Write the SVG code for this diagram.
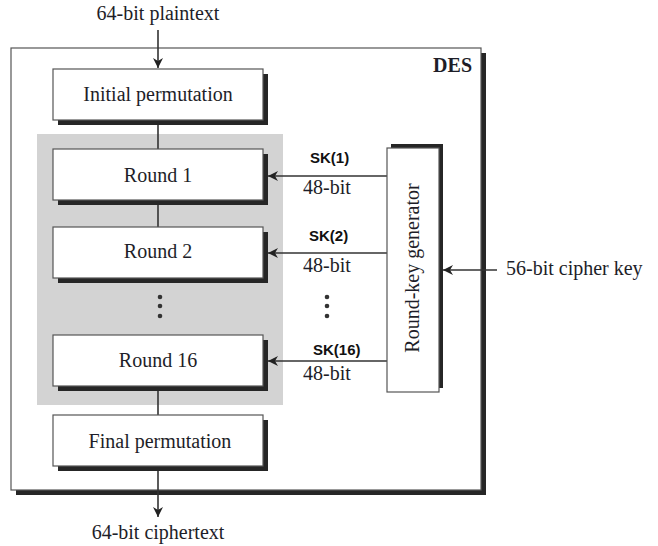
<svg xmlns="http://www.w3.org/2000/svg" width="658" height="546" viewBox="0 0 658 546">
<defs>
<style>
.box{fill:#fff;stroke:#555;stroke-width:1.2}
.sh{fill:#262626}
.lbl{font-family:"Liberation Serif",serif;font-size:20px;fill:#1e1e28}
.sk{font-family:"Liberation Sans",Arial,sans-serif;font-size:15px;font-weight:bold;fill:#111}
.ln{stroke:#333;stroke-width:1.6;fill:none}
.dot{fill:#333}
</style>
<marker id="ah" viewBox="0 0 10 10" refX="10" refY="5" markerWidth="10" markerHeight="10" markerUnits="userSpaceOnUse" orient="auto">
<path d="M0,0 L10,5 L0,10 L3,5 Z" fill="#222"/>
</marker>
</defs>
<rect width="658" height="546" fill="#fff"/>

<g id="des">
<rect class="sh" x="16" y="53" width="470" height="442"/>
<rect class="box" x="11" y="48" width="470" height="442" stroke="#333" stroke-width="1.5"/>
<text x="472" y="72" text-anchor="end" font-family="Liberation Serif,serif" font-size="20" font-weight="bold" fill="#1e1e28">DES</text>
</g>

<g id="rounds-area">
<rect x="37" y="134" width="246" height="271" fill="#d3d3d3"/>
</g>

<g id="connectors">
<line class="ln" x1="158" y1="30" x2="158" y2="68" marker-end="url(#ah)"/>
<line class="ln" x1="158" y1="124" x2="158" y2="149"/>
<line class="ln" x1="158" y1="205" x2="158" y2="227"/>
<line class="ln" x1="158" y1="390" x2="158" y2="416"/>
<line class="ln" x1="158" y1="471" x2="158" y2="517" marker-end="url(#ah)"/>
<line class="ln" x1="387" y1="176" x2="268" y2="176" marker-end="url(#ah)"/>
<line class="ln" x1="387" y1="253" x2="268" y2="253" marker-end="url(#ah)"/>
<line class="ln" x1="387" y1="361" x2="268" y2="361" marker-end="url(#ah)"/>
<line class="ln" x1="497" y1="270" x2="443" y2="270" marker-end="url(#ah)"/>
<text class="sk" x="310" y="163">SK(1)</text>
<text class="lbl" x="303" y="194">48-bit</text>
<text class="sk" x="309" y="241">SK(2)</text>
<text class="lbl" x="303" y="272">48-bit</text>
<text class="sk" x="313" y="355">SK(16)</text>
<text class="lbl" x="303" y="380">48-bit</text>
</g>

<g id="initial-permutation">
<rect class="sh" x="58" y="74" width="210" height="51"/>
<rect class="box" x="53" y="69" width="210" height="51"/>
<text class="lbl" x="158" y="101" text-anchor="middle">Initial permutation</text>
</g>

<g id="round1">
<rect class="sh" x="58" y="154" width="210" height="51"/>
<rect class="box" x="53" y="149" width="210" height="51"/>
<text class="lbl" x="158" y="182" text-anchor="middle">Round 1</text>
</g>

<g id="round2">
<rect class="sh" x="58" y="232" width="210" height="51"/>
<rect class="box" x="53" y="227" width="210" height="51"/>
<text class="lbl" x="158" y="258" text-anchor="middle">Round 2</text>
</g>

<g id="dots-left">
<circle class="dot" cx="160" cy="297" r="2.3"/>
<circle class="dot" cx="160" cy="306" r="2.3"/>
<circle class="dot" cx="160" cy="316" r="2.3"/>
</g>
<g id="dots-right">
<circle class="dot" cx="327" cy="297" r="2.3"/>
<circle class="dot" cx="327" cy="306" r="2.3"/>
<circle class="dot" cx="327" cy="316" r="2.3"/>
</g>

<g id="round16">
<rect class="sh" x="58" y="340" width="210" height="51"/>
<rect class="box" x="53" y="335" width="210" height="51"/>
<text class="lbl" x="158" y="367" text-anchor="middle">Round 16</text>
</g>

<g id="final-permutation">
<rect class="sh" x="58" y="420" width="210" height="51"/>
<rect class="box" x="53" y="415" width="210" height="51"/>
<text class="lbl" x="160" y="448" text-anchor="middle">Final permutation</text>
</g>

<g id="round-key-generator">
<rect class="sh" x="391" y="144" width="52" height="244"/>
<rect class="box" x="387" y="148" width="52" height="244"/>
<text class="lbl" transform="translate(419,268) rotate(-90)" text-anchor="middle">Round-key generator</text>
</g>

<g id="labels">
<text class="lbl" x="158" y="20" text-anchor="middle">64-bit plaintext</text>
<text class="lbl" x="158" y="539" text-anchor="middle">64-bit ciphertext</text>
<text class="lbl" x="506" y="275">56-bit cipher key</text>
</g>
</svg>
